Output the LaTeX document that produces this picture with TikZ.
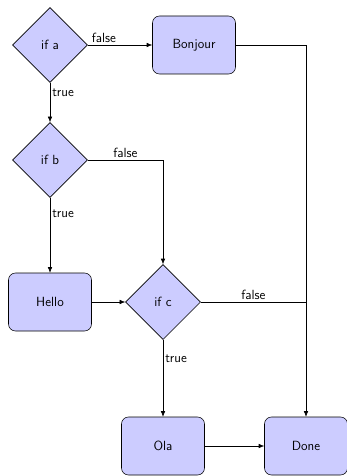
\documentclass[tikz,border=0pt]{standalone}
\usetikzlibrary{shapes.geometric,arrows.meta}
\renewcommand{\familydefault}{\sfdefault}

\tikzset{
	every picture/.style={line width=0.55pt},
	decision/.style={diamond, draw, fill=blue!20, aspect=1, minimum size=75pt, inner sep=0pt, font=\fontsize{13.3}{16}\selectfont},
	block/.style={rectangle, draw, fill=blue!20, rounded corners=7pt, minimum width=83pt, minimum height=58pt, font=\fontsize{13.3}{16}\selectfont},
	line/.style={draw, -{Latex[length=5.5pt,width=4.5pt]}},
	lbl/.style={font=\fontsize{13.3}{16}\selectfont, inner sep=2pt}
}

\begin{document}
\begin{tikzpicture}[x=1pt,y=-1pt]
	\useasboundingbox (0,0) rectangle (347,476);
	
	% Nodes
	\node[decision] (ifa) at (50,45) {if a};
	\node[block] (bonjour) at (194,45) {Bonjour};
	\node[decision] (ifb) at (50,160) {if b};
	\node[block] (hello) at (50,302) {Hello};
	\node[decision] (ifc) at (163,302) {if c};
	\node[block] (ola) at (163,446) {Ola};
	\node[block] (done) at (306,446) {Done};
	
	% Corners of the connectors
	\coordinate (bturn) at (ifc.north |- ifb.east);
	\coordinate (jturn) at (done.north |- bonjour.east);
	\coordinate (cjoin) at (done.north |- ifc.east);
	
	% Edges
	\path[line] (ifa) -- node[lbl, above, pos=0.25] {false} (bonjour);
	\path[line] (ifa) -- node[lbl, right, pos=0.25] {true} (ifb);
	\path[line] (ifb.east) -- node[lbl, above] {false} (bturn) -- (ifc.north);
	\path[line] (ifb) -- node[lbl, right, pos=0.22] {true} (hello);
	\path[line] (hello) -- (ifc);
	\path[line] (ifc) -- node[lbl, right, pos=0.25] {true} (ola);
	\path[line] (ola) -- (done);
	\path[line] (bonjour.east) -- (jturn) -- (done.north);
	\draw (ifc.east) -- node[lbl, above] {false} (cjoin);
	
\end{tikzpicture}
\end{document}
